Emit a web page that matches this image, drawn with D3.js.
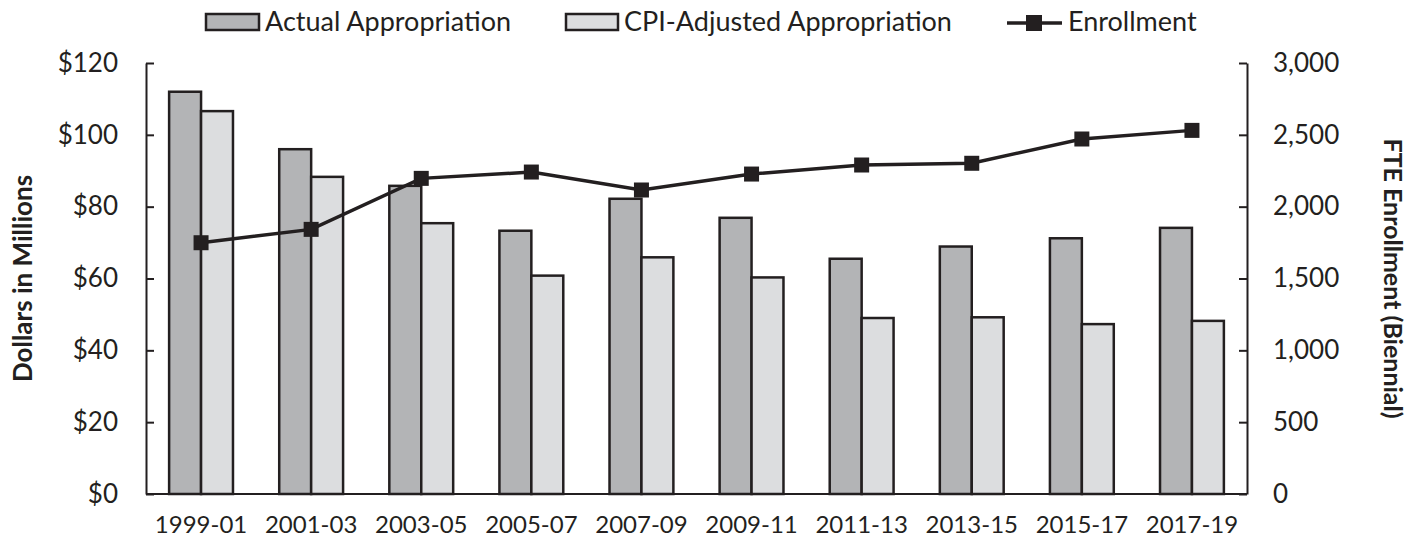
<!DOCTYPE html>
<html>
<head>
	<style>
		body { margin: 0; background: #fff; }
		text { font-family: Lato, "Open Sans", sans-serif; fill: #231f20; }
	</style>
</head>
<body>
	<script src="https://d3js.org/d3.v7.min.js"></script>
	<script>
		var periods = ["1999-01", "2001-03", "2003-05", "2005-07", "2007-09", "2009-11", "2011-13", "2013-15", "2015-17", "2017-19"];
		var actual = [112.0, 96.0, 85.8, 73.3, 82.2, 76.9, 65.5, 68.9, 71.2, 74.1];
		var cpiAdjusted = [106.6, 88.3, 75.4, 60.8, 65.9, 60.3, 49.0, 49.2, 47.3, 48.2];
		var enrollment = [1749, 1842, 2197, 2241, 2116, 2227, 2290, 2302, 2471, 2531];
		var leftTicks = [0, 20, 40, 60, 80, 100, 120];
		var rightTicks = [0, 500, 1000, 1500, 2000, 2500, 3000];

		var width = 1418, height = 538;
		// plot box (window.top is taken, so no plain "top")
		var plotLeft = 146, plotRight = 1247, plotTop = 63, plotBottom = 494;
		var ink = "#231f20";

		var svg = d3.select("body").append("svg")
			.attr("width", width)
			.attr("height", height);

		var x = d3.scaleBand().domain(periods).range([plotLeft, plotRight])
			.paddingInner(0.42).paddingOuter(0.21);
		var sub = d3.scaleBand().domain(["actual", "cpi"]).range([0, x.bandwidth()]);
		var y = d3.scaleLinear().domain([0, 120]).range([plotBottom, plotTop]);
		var y2 = d3.scaleLinear().domain([0, 3000]).range([plotBottom, plotTop]);

		// bars
		var groups = svg.append("g").selectAll("g")
			.data(periods)
			.enter().append("g")
			.attr("transform", function(d) { return "translate(" + x(d) + ",0)"; });

		groups.append("rect")
			.attr("x", sub("actual"))
			.attr("y", function(d, i) { return y(actual[i]); })
			.attr("width", sub.bandwidth())
			.attr("height", function(d, i) { return plotBottom - y(actual[i]); })
			.style("fill", "#b3b4b6").style("stroke", ink).style("stroke-width", 2.5);

		groups.append("rect")
			.attr("x", sub("cpi"))
			.attr("y", function(d, i) { return y(cpiAdjusted[i]); })
			.attr("width", sub.bandwidth())
			.attr("height", function(d, i) { return plotBottom - y(cpiAdjusted[i]); })
			.style("fill", "#dcdddf").style("stroke", ink).style("stroke-width", 2.5);

		// axes
		var leftAxis = svg.append("g")
			.attr("transform", "translate(" + plotLeft + ",0)")
			.call(d3.axisLeft(y).tickValues(leftTicks).tickSizeInner(-8).tickSizeOuter(0)
				.tickPadding(28).tickFormat(function(d) { return "$" + d; }));
		var rightAxis = svg.append("g")
			.attr("transform", "translate(" + plotRight + ",0)")
			.call(d3.axisRight(y2).tickValues(rightTicks).tickSizeInner(-8).tickSizeOuter(0)
				.tickPadding(26).tickFormat(d3.format(",")));
		var bottomAxis = svg.append("g")
			.attr("transform", "translate(0," + plotBottom + ")")
			.call(d3.axisBottom(x).tickSize(0).tickPadding(22));

		[leftAxis, rightAxis, bottomAxis].forEach(function(a) {
			a.select(".domain").style("stroke", ink).style("stroke-width", 2);
			a.selectAll(".tick line").style("stroke", ink).style("stroke-width", 2);
			a.selectAll("text").style("font-size", "26px").style("fill", ink)
				.style("font-family", "Lato, sans-serif");
		});
		bottomAxis.selectAll("text").style("font-size", "24px");
		bottomAxis.select(".domain").attr("d", "M" + plotLeft + ",0H" + plotRight);

		// enrollment line
		var line = d3.line()
			.x(function(d, i) { return x(periods[i]) + x.bandwidth() / 2; })
			.y(function(d) { return y2(d); });

		svg.append("path")
			.datum(enrollment)
			.attr("d", line)
			.style("fill", "none").style("stroke", ink).style("stroke-width", 3.5);

		svg.append("g").selectAll("rect")
			.data(enrollment)
			.enter().append("rect")
			.attr("x", function(d, i) { return x(periods[i]) + x.bandwidth() / 2 - 7.5; })
			.attr("y", function(d) { return y2(d) - 7.5; })
			.attr("width", 15).attr("height", 15)
			.style("fill", ink);

		// axis titles
		svg.append("text")
			.attr("transform", "translate(32," + ((plotTop + plotBottom) / 2) + ") rotate(-90)")
			.attr("text-anchor", "middle")
			.style("font-size", "26px").style("font-weight", "bold")
			.text("Dollars in Millions");
		svg.append("text")
			.attr("transform", "translate(1384," + ((plotTop + plotBottom) / 2) + ") rotate(90)")
			.attr("text-anchor", "middle")
			.style("font-size", "25px").style("font-weight", "bold")
			.text("FTE Enrollment (Biennial)");

		// legend
		var legend = svg.append("g");
		legend.append("rect").attr("x", 206).attr("y", 14).attr("width", 53).attr("height", 16)
			.style("fill", "#b3b4b6").style("stroke", ink).style("stroke-width", 2.5);
		legend.append("text").attr("x", 265).attr("y", 31).style("font-size", "27px").text("Actual Appropriation");
		legend.append("rect").attr("x", 566).attr("y", 14).attr("width", 52).attr("height", 16)
			.style("fill", "#dcdddf").style("stroke", ink).style("stroke-width", 2.5);
		legend.append("text").attr("x", 624).attr("y", 31).style("font-size", "27px").text("CPI-Adjusted Appropriation");
		legend.append("line").attr("x1", 1007).attr("x2", 1062).attr("y1", 23).attr("y2", 23)
			.style("stroke", ink).style("stroke-width", 3.5);
		legend.append("rect").attr("x", 1026).attr("y", 15).attr("width", 16).attr("height", 16)
			.style("fill", ink);
		legend.append("text").attr("x", 1068).attr("y", 31).style("font-size", "27px").text("Enrollment");
	</script>
</body>
</html>
